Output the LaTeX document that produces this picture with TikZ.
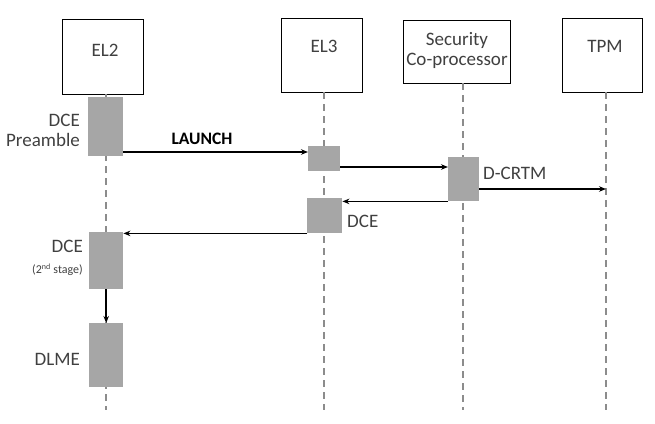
\documentclass[tikz,border=0pt]{standalone}
\usepackage{fontspec}
\setmainfont{Carlito}
\usetikzlibrary{arrows.meta}
\definecolor{actgray}{HTML}{A6A6A6}
\definecolor{lifegray}{HTML}{8C8C8C}
\definecolor{txtgray}{HTML}{404040}
\begin{document}
\begin{tikzpicture}[x=1pt,y=-1pt,
  hdr/.style={draw=black, line width=0.9pt, fill=white, inner sep=0pt, anchor=north west},
  act/.style={fill=actgray, draw=none, inner sep=0pt, anchor=north west},
  life/.style={draw=lifegray, line width=1.4pt, dash pattern=on 7pt off 5pt},
  msg/.style={draw=black, line width=1.5pt, -{Stealth[length=7pt,width=5.5pt]}},
  lbl/.style={font=\fontsize{19}{22}\selectfont, text=txtgray, inner sep=0pt},
  small/.style={font=\fontsize{12}{14}\selectfont, text=txtgray, inner sep=0pt},
]
\useasboundingbox (0,0) rectangle (655,423);

% header boxes
\node[hdr, minimum width=81pt, minimum height=75pt] (el2) at (62,19) {};
\node[hdr, minimum width=81pt, minimum height=74pt] (el3) at (281,18) {};
\node[hdr, minimum width=107pt, minimum height=63pt] (sec) at (403,20) {};
\node[hdr, minimum width=80pt, minimum height=74pt] (tpm) at (562,18) {};
\node[lbl] (el2t) at (105,50) {EL2};
\node[lbl] (el3t) at (324,46) {EL3};
\node[lbl, align=center] (sect) at (457,50) {Security\\[-2pt]Co-processor};
\node[lbl] (tpmt) at (605,46) {TPM};

% lifelines
\coordinate (el2top) at (106,94);  \coordinate (el2bot) at (106,410);
\coordinate (el3top) at (324,92);  \coordinate (el3bot) at (324,410);
\coordinate (sectop) at (463,83);  \coordinate (secbot) at (463,410);
\coordinate (tpmtop) at (606,92);  \coordinate (tpmbot) at (606,410);
\draw[life] (el2top) -- (el2bot);
\draw[life] (el3top) -- (el3bot);
\draw[life] (sectop) -- (secbot);
\draw[life] (tpmtop) -- (tpmbot);

% activations
\node[act, minimum width=35pt, minimum height=59pt] (pre) at (88,97) {};
\node[act, minimum width=32pt, minimum height=25pt] (l3a) at (308,146) {};
\node[act, minimum width=31pt, minimum height=44pt] (sca) at (448,157) {};
\node[act, minimum width=35pt, minimum height=35pt] (l3b) at (307,198) {};
\node[act, minimum width=34pt, minimum height=57pt] (dce2) at (89,232) {};
\node[act, minimum width=34pt, minimum height=64pt] (dlme) at (89,323) {};

% messages
\draw[msg] (pre.east |- 0,152) -- (l3a.west |- 0,152);
\draw[msg] (l3a.east |- 0,167) -- (sca.west |- 0,167);
\draw[msg] (sca.east |- 0,189) -- (tpmtop |- 0,189);
\draw[msg] (sca.south west) -- (l3b.east |- sca.south west);
\draw[msg] (l3b.south west) -- (dce2.east |- l3b.south west);
\draw[msg] (dce2.south) -- (dlme.north);

% labels
\node[lbl, align=right, anchor=east] (prel) at (80,130) {DCE\\[-2pt]Preamble};
\node[font=\bfseries\fontsize{17.5}{20}\selectfont, inner sep=0pt] (launch) at (202,139) {LAUNCH};
\node[lbl, anchor=west] (dcrtm) at (483,173) {D-CRTM};
\node[lbl, anchor=west] (dcel) at (347,221) {DCE};
\node[lbl, anchor=east] (dce2l) at (83,246) {DCE};
\node[small, anchor=east] (stage) at (83,270) {(2\textsuperscript{nd} stage)};
\node[lbl, anchor=east] (dlmel) at (80,359) {DLME};
\end{tikzpicture}
\end{document}
